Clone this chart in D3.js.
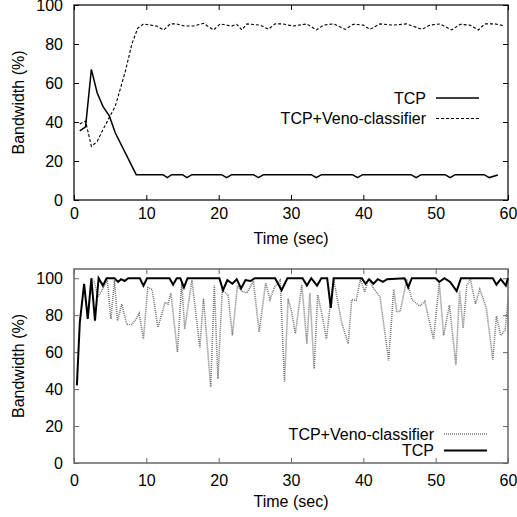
<!doctype html>
<html lang="en">
<head>
  <meta charset="utf-8">
  <title>Bandwidth</title>
  <style>
  body { margin: 0; background: #fff; }
  svg { display: block; font-family: "Liberation Sans", Arial, sans-serif; }
  .tick text { font-size: 16px; fill: #000; }
  .domain { display: none; }
  </style>
</head>
<body>
  <div id="chart"></div>
  <script src="https://cdn.jsdelivr.net/npm/d3@7"></script>
  <script>
// top panel: time (sec) and bandwidth (%)
var topTcpT  = [0.8, 1.6, 2.4, 3.2, 4.0, 4.9, 5.7, 8.6, 12.3, 12.9, 13.5, 15.0, 15.6, 16.3, 20.4, 21.1, 21.8, 24.8, 25.5, 26.2, 32.8, 33.5, 34.2, 38.5, 39.2, 39.9, 46.6, 47.3, 48.0, 51.3, 52.0, 52.7, 56.7, 57.4, 58.6];
var topTcpV  = [35.5, 37.5, 67, 55, 48, 43, 34.5, 13, 13, 11.5, 13, 13, 11.5, 13, 13, 11.5, 13, 13, 11.5, 13, 13, 11.5, 13, 13, 11.5, 13, 13, 11.5, 13, 13, 11.5, 13, 13, 11.5, 12.8];
var topVenoT = [0.8, 1.6, 2.4, 3.2, 4.0, 4.9, 5.7, 6.4, 7.1, 8.0, 8.8, 9.6, 10.5, 11.4, 12.4, 13.3, 14.2, 15.3, 16.5, 17.9, 19.3, 20.2, 21.8, 22.5, 23.2, 23.9, 25.7, 26.9, 27.8, 28.9, 30.3, 32.2, 33.5, 34.5, 35.9, 37.5, 38.6, 40.0, 40.9, 42.3, 44.1, 46.0, 48.1, 49.2, 50.6, 52.2, 53.4, 54.7, 55.9, 56.8, 58.2, 59.4];
var topVenoV = [39, 40.5, 27.5, 30, 36, 42.5, 48, 57, 66, 80, 88, 90.3, 89.7, 89.2, 87.2, 90.3, 90.3, 89.2, 89.2, 90.6, 87.2, 90.3, 89.2, 90.1, 87.2, 90.3, 89.7, 87.6, 90.3, 90.3, 89.2, 90.3, 87.2, 89.7, 90.3, 87.5, 90.1, 89.7, 87.5, 90.3, 89.7, 90.3, 87.5, 89.7, 90.3, 87.2, 90.1, 89.7, 87.2, 90.3, 90.3, 89.4];

// bottom panel
var botTcpT  = [0.4, 0.8, 1.4, 1.9, 2.4, 2.9, 3.4, 4.0, 4.5, 5.6, 6.1, 6.5, 7.0, 7.5, 9.1, 9.6, 10.1, 13.2, 13.7, 14.2, 14.7, 15.2, 15.7, 20.1, 20.6, 21.2, 21.9, 22.5, 23.1, 23.7, 24.4, 25.0, 27.8, 28.7, 29.5, 31.6, 32.2, 32.8, 33.6, 34.2, 35.0, 35.5, 35.9, 39.8, 40.3, 40.8, 41.4, 42.0, 42.7, 43.3, 45.7, 46.2, 46.7, 50.0, 50.5, 51.2, 52.0, 52.9, 53.5, 57.9, 58.4, 59.0, 59.7, 60.0];
var botTcpV  = [42, 76, 97, 78, 100, 77, 100, 96, 100, 100, 98, 99.5, 98.5, 100, 100, 96, 100, 100, 96.5, 100, 100, 95, 100, 100, 93.5, 99, 97, 99.5, 94.5, 99, 98.5, 100, 100, 93.5, 100, 100, 96, 100, 96, 100, 100, 84, 100, 100, 97, 99.5, 97, 99.5, 98, 99.5, 100, 95, 100, 100, 98, 100, 98, 93, 100, 100, 96.5, 99.5, 96, 100];
var botVenoT = [2.4, 2.8, 3.3, 3.8, 4.2, 4.6, 5.1, 5.6, 6.0, 6.6, 7.3, 8.0, 8.6, 9.0, 9.6, 10.2, 10.8, 11.6, 12.6, 13.0, 13.4, 14.3, 14.9, 15.3, 16.3, 17.4, 17.9, 18.9, 19.4, 19.9, 20.5, 21.3, 21.9, 22.6, 23.2, 23.9, 24.8, 25.6, 26.5, 27.1, 27.7, 28.5, 29.1, 29.6, 30.1, 30.6, 31.5, 32.2, 32.6, 33.2, 33.7, 34.3, 34.9, 35.5, 35.9, 37.0, 37.9, 38.4, 39.0, 39.6, 40.2, 40.7, 41.5, 42.3, 43.5, 44.2, 44.6, 45.1, 46.0, 46.7, 47.3, 47.8, 48.5, 49.7, 50.5, 51.1, 51.9, 52.8, 53.3, 53.8, 54.3, 54.8, 55.5, 56.1, 57.0, 57.9, 58.4, 59.0, 59.6, 60.0];
var botVenoV = [100, 98, 90, 93, 96, 99, 78, 99, 77, 86, 75, 75, 78, 81, 67, 95, 94, 73.5, 87, 86, 92, 60, 98, 72.5, 99, 62.5, 89, 41, 96, 45.5, 93.5, 91, 69, 96, 93, 92, 98.5, 71, 97.5, 88.5, 95, 99, 44, 89, 81.5, 70, 96.5, 64.5, 92, 51, 91, 80, 67, 88.5, 99.5, 76, 64.5, 88.5, 88, 99.5, 92.5, 99.5, 94, 90, 55.5, 94, 82, 82, 99.5, 88.5, 86.5, 85, 87.5, 67, 97.5, 69, 85.5, 53, 93, 73, 96, 99.5, 86, 94, 84, 56, 79.5, 69, 72, 88];

var xTicks = [0, 10, 20, 30, 40, 50, 60];
var yTicks = [0, 20, 40, 60, 80, 100];
var xLabel = "Time (sec)";
var yLabel = "Bandwidth (%)";

var width = 517, height = 517;
var svg = d3.select("#chart").append("svg")
    .attr("width", width).attr("height", height);

function zip(t, v) { return t.map(function(d, i) { return [d, v[i]]; }); }

function panel(opt) {
  var x = d3.scaleLinear().domain([0, 60]).range([74, 508]);
  var y = d3.scaleLinear().domain([0, opt.yMax]).range([opt.bottom, opt.top]);
  var g = svg.append("g");
  var line = d3.line().x(function(d) { return x(d[0]); }).y(function(d) { return y(d[1]); });

  // axes, ticks inward on all four sides
  g.append("g").attr("transform", "translate(0," + opt.bottom + ")")
    .call(d3.axisBottom(x).tickValues(xTicks).tickSize(-5).tickPadding(opt.xPad));
  g.append("g").attr("transform", "translate(0," + opt.top + ")")
    .call(d3.axisTop(x).tickValues(xTicks).tickSize(-5).tickFormat(""));
  g.append("g").attr("transform", "translate(74,0)")
    .call(d3.axisLeft(y).tickValues(yTicks).tickSize(-5).tickPadding(11));
  g.append("g").attr("transform", "translate(508,0)")
    .call(d3.axisRight(y).tickValues(yTicks).tickSize(-5).tickFormat(""));
  g.selectAll(".tick line").attr("stroke", opt.frame);

  g.append("rect")
    .attr("x", 74).attr("y", opt.top)
    .attr("width", 434).attr("height", opt.bottom - opt.top)
    .attr("fill", "none").attr("stroke", opt.frame).attr("stroke-width", opt.frameW);

  opt.series.forEach(function(s) {
    g.append("path")
      .datum(zip(s.t, s.v))
      .attr("d", line)
      .attr("fill", "none")
      .attr("stroke", s.color)
      .attr("stroke-width", s.w)
      .attr("stroke-dasharray", s.dash)
      .attr("stroke-linejoin", "miter");
  });

  // legend
  opt.legend.forEach(function(l) {
    g.append("text").attr("x", opt.legX).attr("y", l.y + 5.5)
      .attr("text-anchor", "end").attr("font-size", 16).text(l.s.name);
    g.append("line")
      .attr("x1", opt.legX + 10).attr("x2", opt.legX + 53)
      .attr("y1", l.y).attr("y2", l.y)
      .attr("stroke", l.s.color).attr("stroke-width", l.s.w)
      .attr("stroke-dasharray", l.s.dash);
  });

  g.append("text").attr("x", 291).attr("y", opt.bottom + 44)
    .attr("text-anchor", "middle").attr("font-size", 16).text(xLabel);
  g.append("text")
    .attr("transform", "translate(24," + (opt.top + opt.bottom) / 2 + ") rotate(-90)")
    .attr("text-anchor", "middle").attr("font-size", 16).text(yLabel);
}

var tcpTop  = {name: "TCP", t: topTcpT, v: topTcpV, color: "#000", w: 1.5, dash: null};
var venoTop = {name: "TCP+Veno-classifier", t: topVenoT, v: topVenoV, color: "#000", w: 1.1, dash: "3,2"};
panel({
  top: 5, bottom: 200, yMax: 100, xPad: 8, frame: "#000", frameW: 1.2,
  series: [tcpTop, venoTop],
  legX: 426,
  legend: [{s: tcpTop, y: 98}, {s: venoTop, y: 118.5}]
});

var venoBot = {name: "TCP+Veno-classifier", t: botVenoT, v: botVenoV, color: "#777", w: 1.6, dash: "1,1"};
var tcpBot  = {name: "TCP", t: botTcpT, v: botTcpV, color: "#000", w: 2, dash: null};
panel({
  top: 269, bottom: 463, yMax: 105, xPad: 12, frame: "#666", frameW: 1.5,
  series: [venoBot, tcpBot],
  legX: 434,
  legend: [{s: venoBot, y: 434}, {s: tcpBot, y: 450.5}]
});
  </script>
</body>
</html>
